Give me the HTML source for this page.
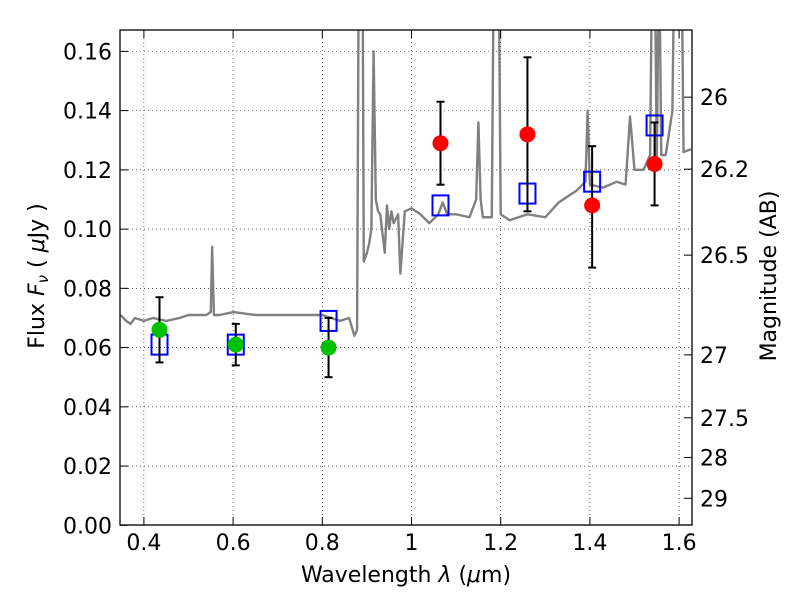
<!DOCTYPE html>
<html><head><meta charset="utf-8"><style>
body{margin:0;background:#fff}
svg text{font-family:"DejaVu Sans","Liberation Sans",sans-serif;fill:#000}
</style></head><body>
<svg id="chart" width="800" height="600" viewBox="0 0 800 600" xmlns="http://www.w3.org/2000/svg">
<defs><clipPath id="clip"><rect x="120" y="30" width="572" height="495"/></clipPath></defs>
<g id="grid"></g>
<g id="spec" clip-path="url(#clip)"></g>
<g id="marks"></g>
<rect x="120" y="30" width="572" height="495" fill="none" stroke="#000" stroke-width="1.3"/>
<g id="axes"></g>
<text x="406" y="582" font-size="22" text-anchor="middle">Wavelength  <tspan font-style="italic">λ</tspan> (<tspan font-style="italic">μ</tspan>m)</text>
<text transform="translate(44,276) rotate(-90)" font-size="22" text-anchor="middle">Flux  <tspan font-style="italic">F</tspan><tspan font-style="italic" font-size="15" dy="4">ν</tspan><tspan dy="-4">  ( </tspan><tspan font-style="italic">μ</tspan>Jy )</text>
<text transform="translate(776,276) rotate(-90)" font-size="22" text-anchor="middle">Magnitude (AB)</text>
</svg>
<script>
const xTicks=[0.4,0.6,0.8,1.0,1.2,1.4,1.6];
const xTickLabels=["0.4","0.6","0.8","1","1.2","1.4","1.6"];
const yTicks=[0,0.02,0.04,0.06,0.08,0.10,0.12,0.14,0.16];
const yTickLabels=["0.00","0.02","0.04","0.06","0.08","0.10","0.12","0.14","0.16"];
const magTicks=[26,26.2,26.5,27,27.5,28,29];
const magTickLabels=["26","26.2","26.5","27","27.5","28","29"];
const specWave=[0.348,0.36,0.37,0.38,0.4,0.42,0.45,0.48,0.5,0.52,0.54,0.55,0.553,0.557,0.57,0.6,0.65,0.7,0.75,0.8,0.84,0.86,0.872,0.878,0.882,0.886,0.89,0.893,0.9,0.905,0.91,0.915,0.92,0.925,0.93,0.94,0.945,0.95,0.955,0.96,0.97,0.975,0.985,1.0,1.02,1.04,1.06,1.07,1.08,1.1,1.13,1.145,1.15,1.155,1.16,1.18,1.185,1.19,1.195,1.2,1.22,1.26,1.3,1.33,1.35,1.37,1.39,1.395,1.4,1.43,1.46,1.48,1.49,1.5,1.52,1.535,1.54,1.545,1.55,1.555,1.56,1.57,1.585,1.59,1.6,1.605,1.61,1.627];
const specFlux=[0.071,0.069,0.068,0.070,0.069,0.070,0.069,0.070,0.071,0.071,0.071,0.072,0.094,0.071,0.071,0.072,0.071,0.071,0.071,0.071,0.069,0.070,0.064,0.066,0.2,0.2,0.2,0.089,0.092,0.095,0.10,0.16,0.11,0.106,0.105,0.092,0.108,0.100,0.106,0.102,0.105,0.085,0.106,0.107,0.105,0.102,0.105,0.109,0.105,0.105,0.104,0.110,0.136,0.110,0.104,0.104,0.2,0.2,0.2,0.105,0.103,0.105,0.104,0.109,0.111,0.113,0.116,0.140,0.115,0.114,0.116,0.115,0.138,0.120,0.120,0.125,0.2,0.2,0.122,0.2,0.125,0.125,0.140,0.2,0.2,0.2,0.126,0.127];
const filtWave=[0.435,0.606,0.814,1.065,1.26,1.405,1.545];
const obsFlux=[0.066,0.061,0.060,0.129,0.132,0.108,0.122];
const errLow=[0.055,0.054,0.050,0.115,0.106,0.087,0.108];
const errHigh=[0.077,0.068,0.070,0.143,0.158,0.128,0.136];
const modelFlux=[0.061,0.061,0.069,0.108,0.112,0.116,0.135];
const obsColor=["#00c000","#00c000","#00c000","#ff0000","#ff0000","#ff0000","#ff0000"];

const X=v=>411.5+(v-1)*446;
const Y=f=>525.3-f*2962;
const NS="http://www.w3.org/2000/svg";
function mk(t,a,p){const e=document.createElementNS(NS,t);for(const k in a)e.setAttribute(k,a[k]);p.appendChild(e);return e;}
const grid=document.getElementById('grid'),axes=document.getElementById('axes');
xTicks.forEach((v,i)=>{
 const g=mk('line',{x1:X(v),x2:X(v),y1:30,y2:525,stroke:'#000','stroke-width':0.6,'stroke-dasharray':'1,3'},grid);
 
 
 mk('line',{x1:X(v),x2:X(v),y1:525,y2:517,stroke:'#000'},axes);
 mk('line',{x1:X(v),x2:X(v),y1:30,y2:38,stroke:'#000'},axes);
 const t=mk('text',{x:X(v),y:550,'font-size':22,'text-anchor':'middle'},axes);t.textContent=xTickLabels[i];
 
 
});
yTicks.forEach((v,i)=>{
 const g=mk('line',{x1:120,x2:692,y1:Y(v),y2:Y(v),stroke:'#000','stroke-width':0.6,'stroke-dasharray':'1,3'},grid);
 
 
 mk('line',{x1:120,x2:128,y1:Y(v),y2:Y(v),stroke:'#000'},axes);
 const t=mk('text',{x:112,y:Y(v)+8,'font-size':22,'text-anchor':'end'},axes);t.textContent=yTickLabels[i];
 
 
});
magTicks.forEach((m,i)=>{
 const y=Y(Math.pow(10,(23.9-m)/2.5));
 mk('line',{x1:684,x2:692,y1:y,y2:y,stroke:'#000'},axes);
 const t=mk('text',{x:700,y:y+8,'font-size':22},axes);t.textContent=magTickLabels[i];
 
 
});
const sp=mk('polyline',{points:specWave.map((w,i)=>X(w)+','+Y(specFlux[i])).join(' '),fill:'none',stroke:'#808080','stroke-width':2.4,'stroke-linejoin':'round'},document.getElementById('spec'));


const marks=document.getElementById('marks');
filtWave.forEach((w,i)=>{
 const x=X(w);
 const sq=mk('rect',{x:x-8,y:Y(modelFlux[i])-10,width:16,height:20,fill:'none',stroke:'#0000ff','stroke-width':2},marks);
 
 
 const eb=mk('g',{stroke:'#000','stroke-width':2},marks);
 
 
 mk('line',{x1:x,x2:x,y1:Y(errLow[i]),y2:Y(errHigh[i])},eb);
 mk('line',{x1:x-4,x2:x+4,y1:Y(errLow[i]),y2:Y(errLow[i])},eb);
 mk('line',{x1:x-4,x2:x+4,y1:Y(errHigh[i]),y2:Y(errHigh[i])},eb);
 const c=mk('circle',{cx:x,cy:Y(obsFlux[i]),r:8,fill:obsColor[i]},marks);
 
 
});
</script>
</body></html>
